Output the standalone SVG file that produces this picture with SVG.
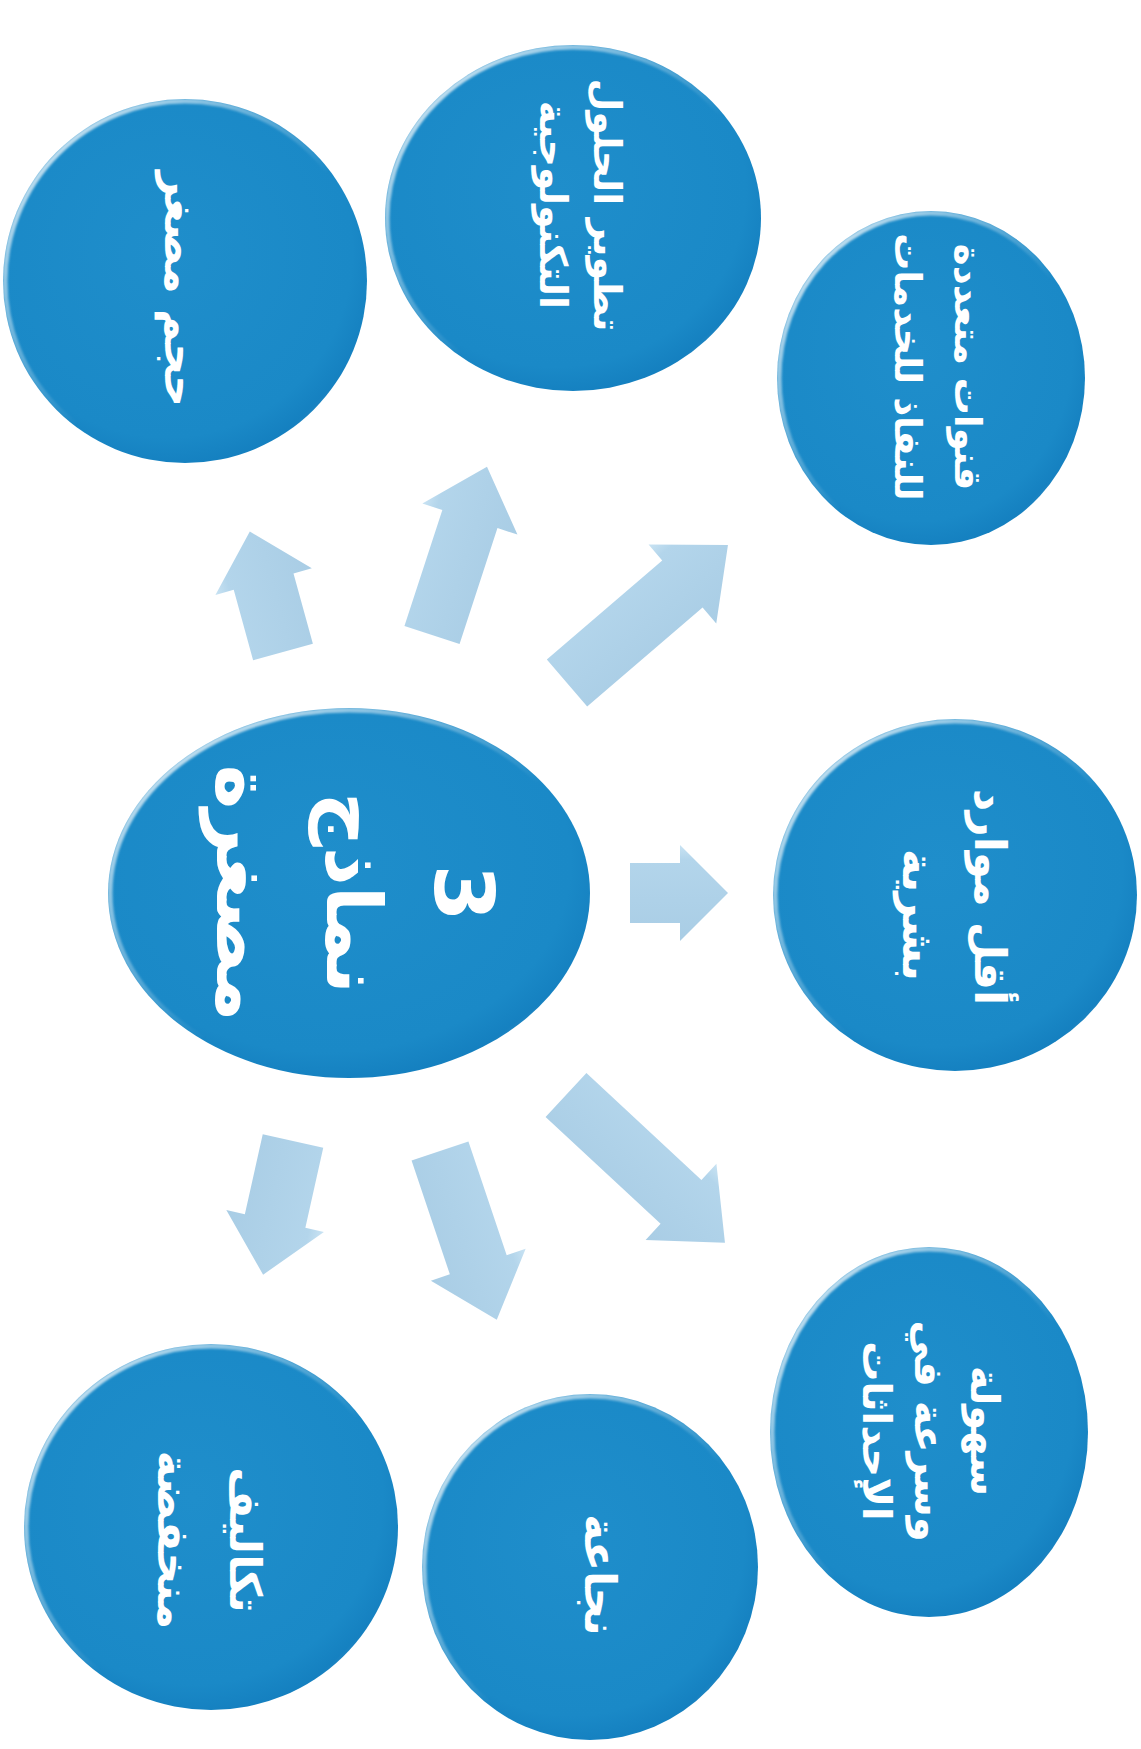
<svg xmlns="http://www.w3.org/2000/svg" width="1141" height="1749" viewBox="0 0 1141 1749">
  <defs>
    <radialGradient id="discFill" cx="0.45" cy="0.42" r="0.6">
      <stop offset="0" stop-color="#1f8ecb"/>
      <stop offset="0.85" stop-color="#1a89c7"/>
      <stop offset="1" stop-color="#147fbf"/>
    </radialGradient>
    <linearGradient id="rimHi" x1="0" y1="0" x2="1" y2="1">
      <stop offset="0" stop-color="#ffffff" stop-opacity="0.95"/>
      <stop offset="0.35" stop-color="#ffffff" stop-opacity="0.35"/>
      <stop offset="0.55" stop-color="#ffffff" stop-opacity="0"/>
      <stop offset="0.85" stop-color="#ffffff" stop-opacity="0"/>
      <stop offset="1" stop-color="#dff0fa" stop-opacity="0.7"/>
    </linearGradient>
    <linearGradient id="arrowFill" x1="0" y1="0" x2="0" y2="1">
      <stop offset="0" stop-color="#c9e3f3"/>
      <stop offset="0.15" stop-color="#b3d5eb"/>
      <stop offset="1" stop-color="#a9cde5"/>
    </linearGradient>
    <filter id="soft" x="-10%" y="-10%" width="120%" height="120%">
      <feGaussianBlur stdDeviation="1.2"/>
    </filter>
  </defs>
  <style>
    .disc { fill: url(#discFill); }
    .rim { fill: none; stroke: url(#rimHi); stroke-width: 5; filter: url(#soft); }
    .lbl { fill: #ffffff; font-family: "DejaVu Sans", "Noto Sans", sans-serif; font-weight: bold; text-anchor: middle; dominant-baseline: central; }
    .arrow { fill: url(#arrowFill); }
  </style>

  <rect width="1141" height="1749" fill="#ffffff"/>

  <!-- block arrows radiating from the central disc -->
  <g id="connectors">
    <path class="arrow" transform="translate(283,652) rotate(-105.4)" d="M0,-31 L73,-31 L73,-50 L125,0 L73,50 L73,31 L0,31 Z"/>
    <path class="arrow" transform="translate(432,635) rotate(-71.9)" d="M0,-29 L122,-29 L122,-50 L177,0 L122,50 L122,29 L0,29 Z"/>
    <path class="arrow" transform="translate(567,683) rotate(-40.6)" d="M0,-31 L152,-31 L152,-52 L212,0 L152,52 L152,31 L0,31 Z"/>
    <path class="arrow" transform="translate(630,893)" d="M0,-30 L50,-30 L50,-48 L98,0 L50,48 L50,30 L0,30 Z"/>
    <path class="arrow" transform="translate(566,1095) rotate(42.9)" d="M0,-30 L157,-30 L157,-52 L217,0 L157,52 L157,30 L0,30 Z"/>
    <path class="arrow" transform="translate(440,1151) rotate(71.4)" d="M0,-30 L120,-30 L120,-50 L178,0 L120,50 L120,30 L0,30 Z"/>
    <path class="arrow" transform="translate(293,1141) rotate(102.6)" d="M0,-31 L82,-31 L82,-50 L137,0 L82,50 L82,31 L0,31 Z"/>
  </g>

  <!-- centre: 3 small models -->
  <g id="node-center">
    <ellipse class="disc" cx="349" cy="893" rx="241" ry="185"/>
    <ellipse class="rim" cx="349" cy="893" rx="239" ry="183"/>
    <g transform="translate(353,893) rotate(90)">
      <text class="lbl" x="0" y="-110" font-size="82">3</text>
      <text class="lbl" x="0" y="0" font-size="76">نماذج</text>
      <text class="lbl" x="0" y="110" font-size="76">مصغرة</text>
    </g>
  </g>

  <g id="node-size">
    <ellipse class="disc" cx="185" cy="281" rx="182" ry="182"/>
    <ellipse class="rim" cx="185" cy="281" rx="180" ry="180"/>
    <g transform="translate(180,289) rotate(90)">
      <text class="lbl" x="0" y="0" font-size="44">حجم مصغر</text>
    </g>
  </g>

  <g id="node-tech">
    <ellipse class="disc" cx="573" cy="218" rx="188" ry="173"/>
    <ellipse class="rim" cx="573" cy="218" rx="186" ry="171"/>
    <g transform="translate(580,205) rotate(90)">
      <text class="lbl" x="0" y="-27" font-size="38">تطوير الحلول</text>
      <text class="lbl" x="0" y="27" font-size="38">التكنولوجية</text>
    </g>
  </g>

  <g id="node-channels">
    <ellipse class="disc" cx="931" cy="378" rx="154" ry="167"/>
    <ellipse class="rim" cx="931" cy="378" rx="152" ry="165"/>
    <g transform="translate(937,367) rotate(90)">
      <text class="lbl" x="0" y="-30" font-size="37">قنوات متعددة</text>
      <text class="lbl" x="0" y="30" font-size="37">للنفاذ للخدمات</text>
    </g>
  </g>

  <g id="node-staff">
    <ellipse class="disc" cx="955" cy="895" rx="182" ry="176"/>
    <ellipse class="rim" cx="955" cy="895" rx="180" ry="174"/>
    <g transform="translate(990,897) rotate(90)">
      <text class="lbl" x="0" y="0" font-size="44">أقل موارد</text>
    </g>
    <g transform="translate(918,915) rotate(90)">
      <text class="lbl" x="0" y="0" font-size="44">بشرية</text>
    </g>
  </g>

  <g id="node-ease">
    <ellipse class="disc" cx="929" cy="1432" rx="159" ry="185"/>
    <ellipse class="rim" cx="929" cy="1432" rx="157" ry="183"/>
    <g transform="translate(929,1431) rotate(90)">
      <text class="lbl" x="0" y="-56" font-size="40">سهولة</text>
      <text class="lbl" x="0" y="0" font-size="40">وسرعة في</text>
      <text class="lbl" x="0" y="52" font-size="40">الإحداثات</text>
    </g>
  </g>

  <g id="node-efficiency">
    <ellipse class="disc" cx="590" cy="1567" rx="168" ry="173"/>
    <ellipse class="rim" cx="590" cy="1567" rx="166" ry="171"/>
    <g transform="translate(600,1575) rotate(90)">
      <text class="lbl" x="0" y="0" font-size="44">نجاعة</text>
    </g>
  </g>

  <g id="node-cost">
    <ellipse class="disc" cx="211" cy="1527" rx="187" ry="183"/>
    <ellipse class="rim" cx="211" cy="1527" rx="185" ry="181"/>
    <g transform="translate(209,1540) rotate(90)">
      <text class="lbl" x="0" y="-36" font-size="44">تكاليف</text>
      <text class="lbl" x="0" y="36" font-size="44">منخفضة</text>
    </g>
  </g>
</svg>
